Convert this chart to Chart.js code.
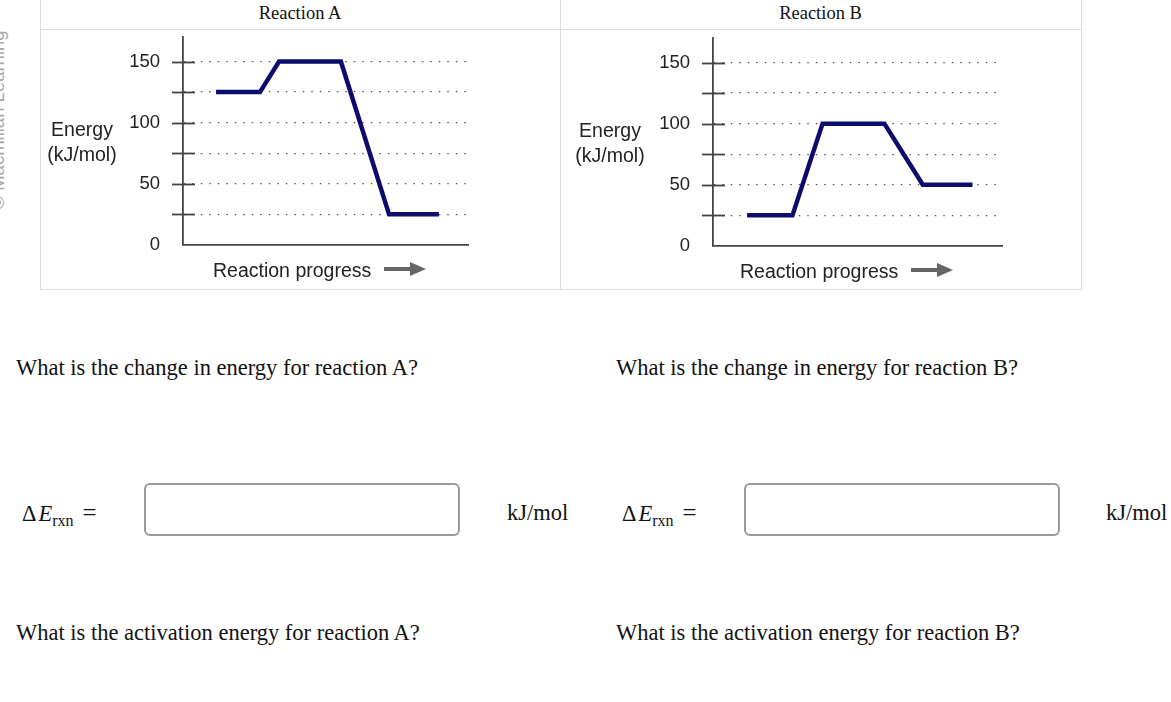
<!DOCTYPE html>
<html>
<head>
<meta charset="utf-8">
<script src="https://cdn.jsdelivr.net/npm/chart.js@4.4.1/dist/chart.umd.min.js"></script>
<style>
  body { margin: 0; width: 1171px; height: 702px; background: #fff; overflow: hidden; position: relative;
         font-family: "Liberation Serif", "Times New Roman", serif; color: #111; }
  .abs { position: absolute; }
  .panel { position: absolute; border: 1px solid #dcdcdc; box-sizing: border-box; }
  .head { position: absolute; top: 0; height: 29px; line-height: 27px; text-align: center; font-size: 18.5px; color: #111; }
  .ylab { position: absolute; width: 120px; text-align: center; font-family: "Liberation Sans", Arial, sans-serif;
          font-size: 19.5px; line-height: 25px; color: #222; }
  .xlab { position: absolute; font-family: "Liberation Sans", Arial, sans-serif; font-size: 19.5px; line-height: 24px;
          color: #222; white-space: nowrap; }
  .xlab svg { margin-left: 13px; vertical-align: 1px; }
  .q { position: absolute; font-size: 22.5px; line-height: 26px; white-space: nowrap; }
  .eq { position: absolute; font-size: 22.5px; line-height: 26px; white-space: nowrap; }
  .eq sub { font-size: 16px; vertical-align: -5px; line-height: 0; }
  .eq .eqs { margin-left: 9px; font-size: 25px; }
  .box { position: absolute; width: 316px; height: 53px; border: 2px solid #9a9a9a; border-radius: 6px; box-sizing: border-box; }
  .wm { position: absolute; left: -92px; top: 110px; width: 180px; height: 20px; line-height: 20px; text-align: center;
        transform: rotate(-90deg); font-family: "Liberation Sans", Arial, sans-serif; font-size: 18.5px; color: #a8a8a8; white-space: nowrap; }
</style>
</head>
<body>

<div class="wm">© Macmillan Learning</div>

<div class="panel" style="left:40px; top:-1px; width:521px; height:291px;"></div>
<div class="panel" style="left:560px; top:-1px; width:522px; height:291px;"></div>
<div class="abs" style="left:40px; top:29px; width:1042px; height:1px; background:#dcdcdc;"></div>

<div class="head" style="left:40px; width:520px;">Reaction A</div>
<div class="head" style="left:560px; width:521px;">Reaction B</div>

<canvas id="chartA" class="abs" style="left:40px; top:3px;" width="520" height="276"></canvas>
<canvas id="chartB" class="abs" style="left:560px; top:4px;" width="521" height="276"></canvas>

<div class="ylab" style="left:22px; top:117px;">Energy<br>(kJ/mol)</div>
<div class="ylab" style="left:550px; top:118px;">Energy<br>(kJ/mol)</div>

<div class="xlab" style="left:213px; top:258px;">Reaction progress<svg width="42" height="14" viewBox="0 0 42 14"><rect x="0" y="5" width="28" height="4" fill="#666"/><polygon points="26,0 42,7 26,14" fill="#666"/></svg></div>
<div class="xlab" style="left:740px; top:259px;">Reaction progress<svg width="42" height="14" viewBox="0 0 42 14"><rect x="0" y="5" width="28" height="4" fill="#666"/><polygon points="26,0 42,7 26,14" fill="#666"/></svg></div>

<div class="q" style="left:16px; top:355px;">What is the change in energy for reaction A?</div>
<div class="q" style="left:616px; top:355px;">What is the change in energy for reaction B?</div>

<div class="eq" style="left:22px; top:500px;">Δ<i style="margin-left:2px;">E</i><sub>rxn</sub><span class="eqs">=</span></div>
<div class="box" style="left:144px; top:483px;"></div>
<div class="eq" style="left:507px; top:500px;">kJ/mol</div>

<div class="eq" style="left:622px; top:500px;">Δ<i style="margin-left:2px;">E</i><sub>rxn</sub><span class="eqs">=</span></div>
<div class="box" style="left:744px; top:483px;"></div>
<div class="eq" style="left:1106px; top:500px;">kJ/mol</div>

<div class="q" style="left:16px; top:620px;">What is the activation energy for reaction A?</div>
<div class="q" style="left:616px; top:620px;">What is the activation energy for reaction B?</div>

<script>
// reaction progress (0-100 along the x axis) and energy (kJ/mol)
const progressA = [11.6, 27.0, 33.7, 55.4, 72.3, 89.8];
const energyA = [125, 125, 150, 150, 25, 25];
const progressB = [11.8, 27.5, 37.9, 59.3, 72.6, 89.8];
const energyB = [25, 25, 100, 100, 50, 50];

const yTickStep = 25;
const yLabelled = [0, 50, 100, 150];
const yMax = 170;

Chart.defaults.font.family = '"Liberation Sans", Arial, sans-serif';

// short solid tick marks crossing the y axis
const crossTicks = {
    id: 'crossTicks',
    afterDraw(chart) {
        const ctx = chart.ctx;
        const y = chart.scales.y;
        const left = chart.chartArea.left;
        ctx.save();
        ctx.strokeStyle = '#444';
        ctx.lineWidth = 1.8;
        y.ticks.forEach(t => {
            if (t.value === 0) return;
            const py = Math.round(y.getPixelForValue(t.value)) + 0.5;
            ctx.beginPath();
            ctx.moveTo(left - 11, py);
            ctx.lineTo(left + 12, py);
            ctx.stroke();
        });
        ctx.restore();
    }
};

function makeChart(id, progress, energy, axisWidth, rightPad) {
    const points = progress.map((x, i) => ({ x: x, y: energy[i] }));
    return new Chart(document.getElementById(id), {
        type: 'line',
        data: {
            datasets: [{
                data: points,
                borderColor: '#0c0c6e',
                borderWidth: 4.5,
                pointRadius: 0,
                tension: 0,
                borderCapStyle: 'butt',
                borderJoinStyle: 'miter'
            }]
        },
        options: {
            responsive: false,
            animation: false,
            events: [],
            layout: { padding: { top: 15, bottom: 15, left: 0, right: rightPad } },
            plugins: { legend: { display: false }, tooltip: { enabled: false } },
            scales: {
                x: {
                    type: 'linear',
                    min: 0,
                    max: 100,
                    ticks: { display: false },
                    grid: { display: false, drawTicks: false },
                    border: { display: true, color: '#444', width: 1.8 }
                },
                y: {
                    min: 0,
                    max: yMax,
                    afterFit: s => { s.width = axisWidth; },
                    ticks: {
                        stepSize: yTickStep,
                        includeBounds: false,
                        padding: 23,
                        color: '#222',
                        font: { size: 18.5 },
                        callback: v => yLabelled.includes(v) ? v : ''
                    },
                    grid: {
                        drawTicks: false,
                        lineWidth: 1.3,
                        color: c => (c.tick && c.tick.value === 0) ? 'rgba(0,0,0,0)' : '#555'
                    },
                    border: { display: true, color: '#444', width: 1.8, dash: [1.5, 7] }
                }
            }
        },
        plugins: [crossTicks]
    });
}

makeChart('chartA', progressA, energyA, 143, 92);
makeChart('chartB', progressB, energyB, 153, 79);
</script>
</body>
</html>
